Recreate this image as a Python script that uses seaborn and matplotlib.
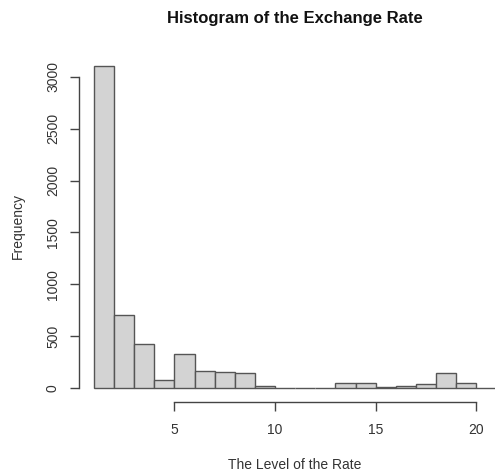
import numpy as np
import pandas as pd
import matplotlib
matplotlib.use("Agg")
import matplotlib.pyplot as plt
import seaborn as sns

# Histogram bins (width 1) and counts
bin_edges = [1, 2, 3, 4, 5, 6, 7, 8, 9, 10, 11, 12, 13, 14, 15, 16, 17, 18, 19, 20, 21]
counts = [3110, 705, 420, 80, 330, 160, 150, 140, 20, 3, 2, 3, 45, 45, 13, 19, 35, 140, 48, 4]
x_ticks = [5, 10, 15, 20]
y_ticks = [0, 500, 1000, 1500, 2000, 2500, 3000]

centers = [(a + b) / 2 for a, b in zip(bin_edges[:-1], bin_edges[1:])]
df = pd.DataFrame({"rate": centers, "freq": counts})

sns.set_style("white")
plt.rcParams["font.family"] = ["Liberation Sans", "DejaVu Sans"]

W, H = 495, 473
fig = plt.figure(figsize=(W / 100, H / 100), dpi=100)
# axes in pixel coords
x0_px, x1_px = 94, 495
xmin, xmax = 1.0, 20.93
y0_px = 388
px_per_count = 311 / 3000
ymax = 3125
top_px = y0_px - ymax * px_per_count
ax = fig.add_axes([x0_px / W, (H - y0_px) / H, (x1_px - x0_px) / W, (y0_px - top_px) / H])

sns.histplot(data=df, x="rate", weights="freq", bins=bin_edges, ax=ax,
             color="#d3d3d3", edgecolor="#555555", linewidth=1.0, alpha=1.0)
for p in ax.patches:
    p.set_clip_on(False)

ax.set_xlim(xmin, xmax)
ax.set_ylim(0, ymax)

for s in ["top", "right"]:
    ax.spines[s].set_visible(False)
ax.spines["left"].set_bounds(0, 3000)
ax.spines["bottom"].set_bounds(5, 20)
ax.spines["left"].set_position(("outward", 11))
ax.spines["bottom"].set_position(("outward", 10))
for s in ["left", "bottom"]:
    ax.spines[s].set_color("#444444")
    ax.spines[s].set_linewidth(1.0)

ax.set_xticks(x_ticks)
ax.set_yticks(y_ticks)
ax.set_yticklabels([str(v) for v in y_ticks], rotation=90, va="center")
ax.tick_params(axis="both", which="both", length=6.5, width=1.0, color="#444444",
               labelsize=10, labelcolor="#333333", direction="out",
               left=True, bottom=True)
ax.tick_params(axis="x", pad=9)
ax.tick_params(axis="y", pad=7)

ax.set_xlabel("The Level of the Rate", fontsize=10, color="#333333", labelpad=15)
ax.set_ylabel("Frequency", fontsize=10, color="#333333", labelpad=15)
ax.grid(False)

fig.text(295 / W, 1 - 18 / H, "Histogram of the Exchange Rate", ha="center", va="center",
         fontsize=12, fontweight="bold", color="#111111")

fig.savefig("out.png", dpi=100)
